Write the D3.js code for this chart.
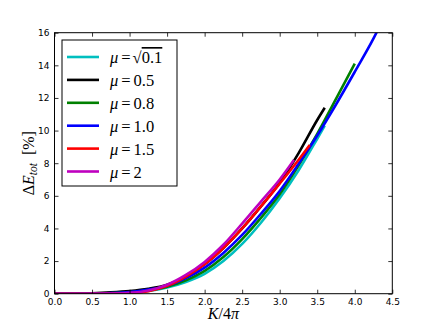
<!DOCTYPE html>
<html>
<head>
<meta charset="utf-8">
<script src="https://cdn.jsdelivr.net/npm/d3@7"></script>
<style>
  body { margin: 0; background: #fff; }
  svg { display: block; }
  .tick text { font-family: "DejaVu Sans", sans-serif; font-size: 9px; fill: #000; }
  .math { font-family: "Liberation Serif", "DejaVu Serif", serif; fill: #000; }
</style>
</head>
<body>
<svg id="chart" width="436" height="327"></svg>
<script>
// x grid (K/4pi) shared by all curves
const kGrid = [0, 0.25, 0.5, 0.75, 1.0, 1.25, 1.5, 1.75, 2.0, 2.25, 2.5, 2.75, 3.0, 3.25, 3.5, 3.75, 4.0, 4.25];

// Delta E_tot [%] per mu (one value per grid point, then an end point)
const valsSqrt01 = [0, 0, 0.01, 0.03, 0.07, 0.17, 0.38, 0.72, 1.22, 2.0, 3.05, 4.35, 5.85, 7.55, 9.5];
const vals05 = [0, 0.01, 0.03, 0.08, 0.16, 0.3, 0.55, 1.05, 1.8, 2.8, 4.0, 5.35, 6.8, 8.6, 10.65];
const vals08 = [0, 0, 0.01, 0.03, 0.08, 0.2, 0.42, 0.82, 1.4, 2.25, 3.35, 4.65, 6.1, 7.85, 9.8, 11.95, 14.1];
const vals10 = [0, 0, 0.01, 0.04, 0.1, 0.25, 0.48, 0.95, 1.6, 2.5, 3.6, 4.9, 6.3, 7.95, 9.7, 11.6, 13.6, 15.65];
const vals15 = [0, 0, 0, 0, 0.02, 0.15, 0.48, 1.05, 1.8, 2.8, 4.0, 5.35, 6.75, 8.2];
const vals20 = [0, 0, 0, 0.01, 0.05, 0.2, 0.55, 1.15, 1.95, 3.0, 4.3, 5.65, 7.0];

const endK   = [3.6, 3.6, 4.0, 4.3, 3.4, 3.19];
const endVal = [10.3, 11.4, 14.1, 16.1, 9.12, 8.2];

const muLabels = ["sqrt0.1", "0.5", "0.8", "1.0", "1.5", "2"];
const colors = ["#00bfbf", "#000000", "#008000", "#0000ff", "#ff0000", "#bf00bf"];
const allVals = [valsSqrt01, vals05, vals08, vals10, vals15, vals20];

const xTicks = [0, 0.5, 1.0, 1.5, 2.0, 2.5, 3.0, 3.5, 4.0, 4.5];
const yTicks = [0, 2, 4, 6, 8, 10, 12, 14, 16];

const series = allVals.map((vals, i) => {
    const pts = vals.map((v, j) => ({ k: kGrid[j], e: v }));
    if (endK[i] > pts[pts.length - 1].k) pts.push({ k: endK[i], e: endVal[i] });
    return { label: muLabels[i], color: colors[i], points: pts };
});

const svg = d3.select("#chart");
const margin = { left: 54.5, top: 32.7, right: 43.7, bottom: 33.3 };
const width = 436 - margin.left - margin.right;
const height = 327 - margin.top - margin.bottom;

const x = d3.scaleLinear().domain([0, 4.5]).range([0, width]);
const y = d3.scaleLinear().domain([0, 16]).range([height, 0]);

const g = svg.append("g").attr("transform", `translate(${margin.left},${margin.top})`);

g.append("clipPath").attr("id", "plotclip")
 .append("rect").attr("width", width).attr("height", height);

// curves
const line = d3.line()
    .x(d => x(d.k))
    .y(d => y(d.e))
    .curve(d3.curveMonotoneX);

g.append("g").attr("clip-path", "url(#plotclip)")
 .selectAll("path")
 .data(series)
 .enter()
 .append("path")
 .attr("d", d => line(d.points))
 .attr("fill", "none")
 .attr("stroke", d => d.color)
 .attr("stroke-width", 2.6)
 .attr("stroke-linejoin", "round");

// axes with inward ticks on all four sides
const tickLen = 4;
const styleAxis = sel => {
    sel.select(".domain").remove();
    sel.selectAll(".tick line").attr("stroke", "#000").attr("stroke-width", 0.8);
};

g.append("g")
 .attr("transform", `translate(0,${height})`)
 .call(d3.axisBottom(x).tickValues(xTicks).tickFormat(d3.format(".1f")).tickSizeInner(-tickLen).tickSizeOuter(0).tickPadding(5))
 .call(styleAxis);

g.append("g")
 .call(d3.axisTop(x).tickValues(xTicks).tickFormat("").tickSizeInner(-tickLen).tickSizeOuter(0))
 .call(styleAxis);

g.append("g")
 .call(d3.axisLeft(y).tickValues(yTicks).tickFormat(d3.format("d")).tickSizeInner(-tickLen).tickSizeOuter(0).tickPadding(5))
 .call(styleAxis);

g.append("g")
 .attr("transform", `translate(${width},0)`)
 .call(d3.axisRight(y).tickValues(yTicks).tickFormat("").tickSizeInner(-tickLen).tickSizeOuter(0))
 .call(styleAxis);

// frame
g.append("rect")
 .attr("width", width).attr("height", height)
 .attr("fill", "none").attr("stroke", "#000").attr("stroke-width", 1);

// x label: K/4π
const xl = svg.append("text").attr("class", "math")
    .attr("x", margin.left + width / 2).attr("y", 319)
    .attr("text-anchor", "middle").attr("font-size", 16);
xl.append("tspan").attr("font-style", "italic").text("K");
xl.append("tspan").text("/4");
xl.append("tspan").attr("font-style", "italic").text("π");

// y label: ΔE_tot [%]
const yl = svg.append("text").attr("class", "math")
    .attr("transform", `translate(34,${margin.top + height / 2}) rotate(-90)`)
    .attr("text-anchor", "middle").attr("font-size", 16);
yl.append("tspan").text("Δ");
yl.append("tspan").attr("font-style", "italic").text("E");
yl.append("tspan").attr("font-style", "italic").attr("font-size", 11.5).attr("dy", 3).text("tot");
yl.append("tspan").attr("dy", -3).text("\u2002[%]");

// legend
const legend = svg.append("g").attr("transform", "translate(62,40)");
legend.append("rect")
 .attr("width", 115).attr("height", 146)
 .attr("fill", "#fff").attr("stroke", "#000").attr("stroke-width", 1);

const rowY = i => 17 + i * 22.9;
const entries = legend.selectAll("g.entry")
 .data(series)
 .enter()
 .append("g").attr("class", "entry")
 .attr("transform", (d, i) => `translate(0,${rowY(i)})`);

entries.append("line")
 .attr("x1", 5).attr("x2", 37).attr("y1", 0).attr("y2", 0)
 .attr("stroke", d => d.color).attr("stroke-width", 2.6);

entries.each(function (d) {
    const t = d3.select(this).append("text").attr("class", "math")
        .attr("x", 48).attr("y", 6).attr("font-size", 16.5);
    t.append("tspan").attr("font-style", "italic").text("μ");
    t.append("tspan").attr("dx", 3).text("=");
    if (d.label === "sqrt0.1") {
        t.append("tspan").attr("dx", 2).text("√");
        t.append("tspan").attr("style", "text-decoration: overline").text("0.1");
    } else {
        t.append("tspan").attr("dx", 3).text(d.label);
    }
});
</script>
</body>
</html>
